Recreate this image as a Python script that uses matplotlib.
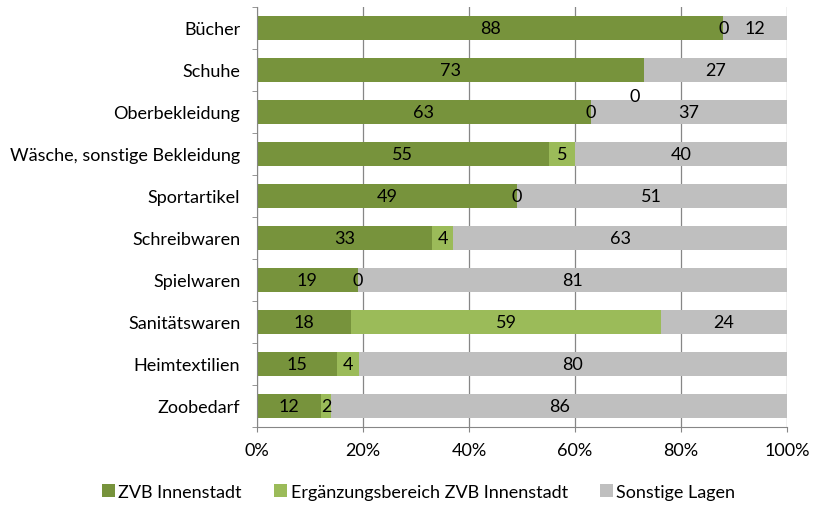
import numpy as np
import matplotlib
matplotlib.use('Agg')
import matplotlib.pyplot as plt

categories = ['Bücher', 'Schuhe', 'Oberbekleidung', 'Wäsche, sonstige Bekleidung',
              'Sportartikel', 'Schreibwaren', 'Spielwaren', 'Sanitätswaren',
              'Heimtextilien', 'Zoobedarf']
zvb = [88, 73, 63, 55, 49, 33, 19, 18, 15, 12]
ergaenzung = [0, 0, 0, 5, 0, 4, 0, 59, 4, 2]
sonstige = [12, 27, 37, 40, 51, 63, 81, 24, 80, 86]
series_names = ['ZVB Innenstadt', 'Ergänzungsbereich ZVB Innenstadt', 'Sonstige Lagen']
x_ticks = [0, 20, 40, 60, 80, 100]

colors = ['#77933C', '#9BBB59', '#BFBFBF']

plt.rcParams['font.family'] = ['Lato', 'DejaVu Sans']
fs = 13

data = np.array([zvb, ergaenzung, sonstige], dtype=float)
shares = data / data.sum(axis=0) * 100  # 100 % stacked
y = np.arange(len(categories))

fig = plt.figure(figsize=(8.13, 5.06), dpi=100)
ax = fig.add_axes([257 / 813, 1 - 428 / 506, 530 / 813, 420 / 506])

left = np.zeros(len(categories))
for k in range(3):
    ax.barh(y, shares[k], left=left, height=0.57, color=colors[k],
            label=series_names[k], zorder=2)
    for i in range(len(categories)):
        cx = left[i] + shares[k][i] / 2
        if k == 1 and i == 1:
            # zero label of Schuhe sits above the bar gap
            ax.text(cx - 1.7, i + 0.62, f'{data[k][i]:.0f}', ha='center', va='center',
                    fontsize=fs, color='black', zorder=3)
        else:
            ax.text(cx, i, f'{data[k][i]:.0f}', ha='center', va='center',
                    fontsize=fs, color='black', zorder=3)
    left += shares[k]

ax.set_xlim(0, 100)
ax.set_ylim(len(categories) - 0.5, -0.5)
ax.set_xticks(x_ticks)
ax.set_xticklabels([f'{t}%' for t in x_ticks], fontsize=fs)
ax.set_yticks(y)
ax.set_yticklabels(categories, fontsize=fs)
ax.set_yticks(np.arange(len(categories) + 1) - 0.5, minor=True)
ax.tick_params(axis='y', which='major', length=0, pad=12)
ax.tick_params(axis='y', which='minor', length=3.5, color='#868686')
ax.tick_params(axis='x', length=3.5, color='#868686', pad=7)
ax.xaxis.grid(True, color='#868686', linewidth=0.9, zorder=0)
ax.set_axisbelow(True)
for s in ['top', 'right']:
    ax.spines[s].set_visible(False)
for s in ['left', 'bottom']:
    ax.spines[s].set_color('#868686')

fig.legend(loc='center', bbox_to_anchor=(0.515, 1 - 493 / 506), ncol=3, frameon=False,
           fontsize=fs, handlelength=0.7, handleheight=0.7, handletextpad=0.2,
           columnspacing=1.8)

fig.savefig('out.png', dpi=100)
